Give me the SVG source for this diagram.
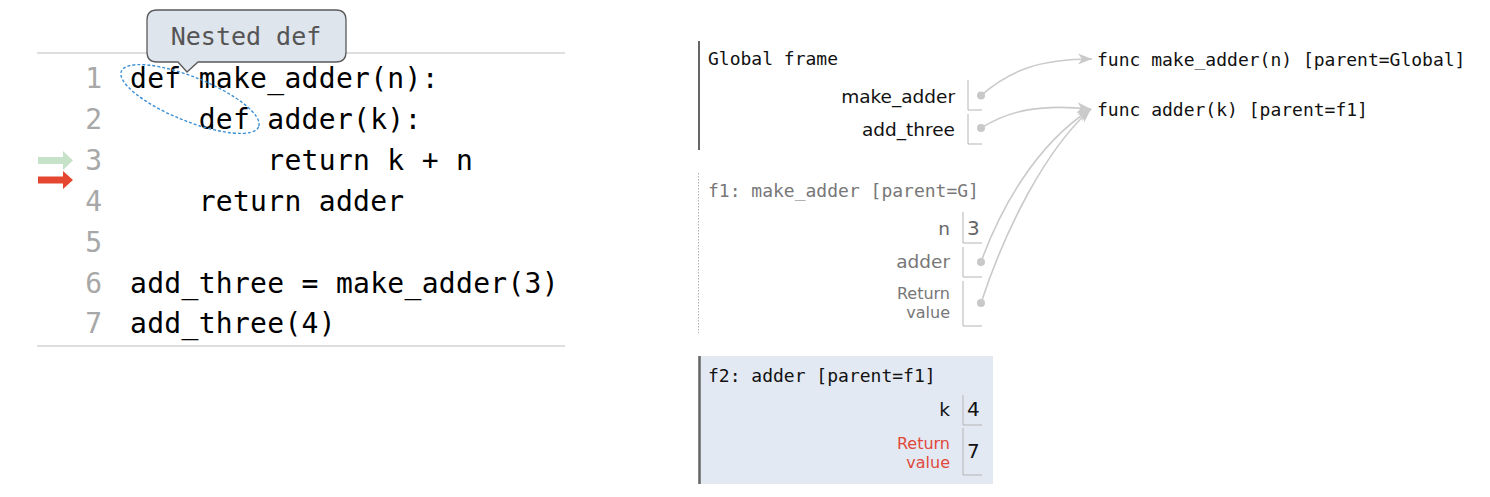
<svg xmlns="http://www.w3.org/2000/svg" width="1490" height="497" viewBox="0 0 1490 497">
<style>
.code{font-family:"DejaVu Sans Mono","Liberation Mono",monospace;font-size:28px;letter-spacing:0.3px;fill:#000}
.ln{font-family:"DejaVu Sans Mono","Liberation Mono",monospace;font-size:28px;fill:#a8a8a8;text-anchor:end}
.mono{font-family:"DejaVu Sans Mono","Liberation Mono",monospace;font-size:18px}
.lbl{font-family:"DejaVu Sans","Liberation Sans",sans-serif;font-size:18.5px;text-anchor:end}
.rv{font-family:"DejaVu Sans","Liberation Sans",sans-serif;font-size:16px;text-anchor:end}
.val{font-family:"DejaVu Sans","Liberation Sans",sans-serif;font-size:20px}
.box{fill:none;stroke:#b4b4b4;stroke-width:1}
.dot{fill:#c8c8c8}
.conn{fill:none;stroke:#cacaca;stroke-width:1.6}
</style>
<defs>
<marker id="ah" markerUnits="userSpaceOnUse" markerWidth="16" markerHeight="12" refX="14" refY="6" orient="auto">
<path d="M0,0.5 L14,6 L0,11.5 L4,6 Z" fill="#cacaca"/>
</marker>
</defs>

<g id="code-panel">
<line x1="37" y1="53" x2="565" y2="53" stroke="#bdbdbd" stroke-width="1.2"/>
<line x1="37" y1="346" x2="565" y2="346" stroke="#bdbdbd" stroke-width="1.2"/>
<text class="ln" x="102" y="88">1</text>
<text class="ln" x="102" y="129">2</text>
<text class="ln" x="102" y="170">3</text>
<text class="ln" x="102" y="211">4</text>
<text class="ln" x="102" y="252">5</text>
<text class="ln" x="102" y="293">6</text>
<text class="ln" x="102" y="333">7</text>
<text class="code" x="130" y="88" xml:space="preserve">def make_adder(n):</text>
<text class="code" x="130" y="129" xml:space="preserve">    def adder(k):</text>
<text class="code" x="130" y="170" xml:space="preserve">        return k + n</text>
<text class="code" x="130" y="211" xml:space="preserve">    return adder</text>
<text class="code" x="130" y="293" xml:space="preserve">add_three = make_adder(3)</text>
<text class="code" x="130" y="333" xml:space="preserve">add_three(4)</text>
</g>

<g id="step-arrows">
<path d="M38,157 L63,157 L63,151 L73,160.5 L63,170 L63,164 L38,164 Z" fill="#c6e3c9"/>
<path d="M38,176.5 L63,176.5 L63,171 L73,180 L63,189 L63,183.5 L38,183.5 Z" fill="#e4462f"/>
</g>

<g id="nested-def-highlight">
<ellipse cx="190" cy="99" rx="74" ry="22" transform="rotate(22 190 99)" fill="none" stroke="#3a8fd6" stroke-width="1.4" stroke-dasharray="3,2"/>
</g>

<g id="callout">
<path d="M157,10 H336 Q346,10 346,20 V52 Q346,62 336,62 H198 L187,72 L178,62 H157 Q147,62 147,52 V20 Q147,10 157,10 Z" fill="#dfe5ec" stroke="#5a5a5a" stroke-width="1.3"/>
<text x="246" y="45" text-anchor="middle" font-family="DejaVu Sans Mono, Liberation Mono, monospace" font-size="25" fill="#555">Nested def</text>
</g>

<g id="global-frame">
<line x1="699" y1="41" x2="699" y2="150" stroke="#666" stroke-width="2"/>
<text class="mono" x="708" y="65" fill="#111">Global frame</text>
<text class="lbl" x="955" y="103" fill="#111">make_adder</text>
<path class="box" d="M968,80 V110 H982"/>
<circle class="dot" cx="981" cy="95.5" r="4"/>
<text class="lbl" x="955" y="136" fill="#111">add_three</text>
<path class="box" d="M968,114 V144 H982"/>
<circle class="dot" cx="981" cy="128" r="4"/>
</g>

<g id="f1-frame">
<line x1="698.5" y1="173" x2="698.5" y2="333" stroke="#b0b0b0" stroke-width="1" stroke-dasharray="1.5,1.5"/>
<text class="mono" x="708" y="197" fill="#777">f1: make_adder [parent=G]</text>
<text class="lbl" x="950" y="235" fill="#666">n</text>
<path class="box" d="M963,212 V243 H982"/>
<text class="val" x="967" y="235" fill="#666">3</text>
<text class="lbl" x="950" y="268" fill="#777">adder</text>
<path class="box" d="M963,247 V277 H982"/>
<circle class="dot" cx="981" cy="262" r="4"/>
<text class="rv" x="950" y="299" fill="#777">Return</text>
<text class="rv" x="950" y="318" fill="#777">value</text>
<path class="box" d="M963,281 V326 H982"/>
<circle class="dot" cx="981" cy="303" r="4"/>
</g>

<g id="f2-frame">
<rect x="698" y="356" width="295" height="128" fill="#e3e9f3"/>
<line x1="699.5" y1="356" x2="699.5" y2="484" stroke="#666" stroke-width="2.5"/>
<text class="mono" x="708" y="382" fill="#111">f2: adder [parent=f1]</text>
<text class="lbl" x="950" y="416" fill="#111">k</text>
<path class="box" d="M963,395 V425 H982"/>
<text class="val" x="967" y="416" fill="#111">4</text>
<text class="rv" x="950" y="449" fill="#e0483b">Return</text>
<text class="rv" x="950" y="468" fill="#e0483b">value</text>
<path class="box" d="M963,428 V475 H982"/>
<text class="val" x="967" y="458" fill="#111">7</text>
</g>

<g id="func-make_adder">
<text class="mono" x="1097" y="66" fill="#111">func make_adder(n) [parent=Global]</text>
</g>
<g id="func-adder">
<text class="mono" x="1097" y="116" fill="#111">func adder(k) [parent=f1]</text>
</g>

<g id="connectors">
<path class="conn" d="M981,95.5 C1010,70 1040,59 1092,59" marker-end="url(#ah)"/>
<path class="conn" d="M981,128 C1010,110 1040,104 1091,109" marker-end="url(#ah)"/>
<path class="conn" d="M981,262 C1000,210 1035,145 1091,109" marker-end="url(#ah)"/>
<path class="conn" d="M981,303 C1005,230 1045,150 1091,109" marker-end="url(#ah)"/>
</g>
</svg>
